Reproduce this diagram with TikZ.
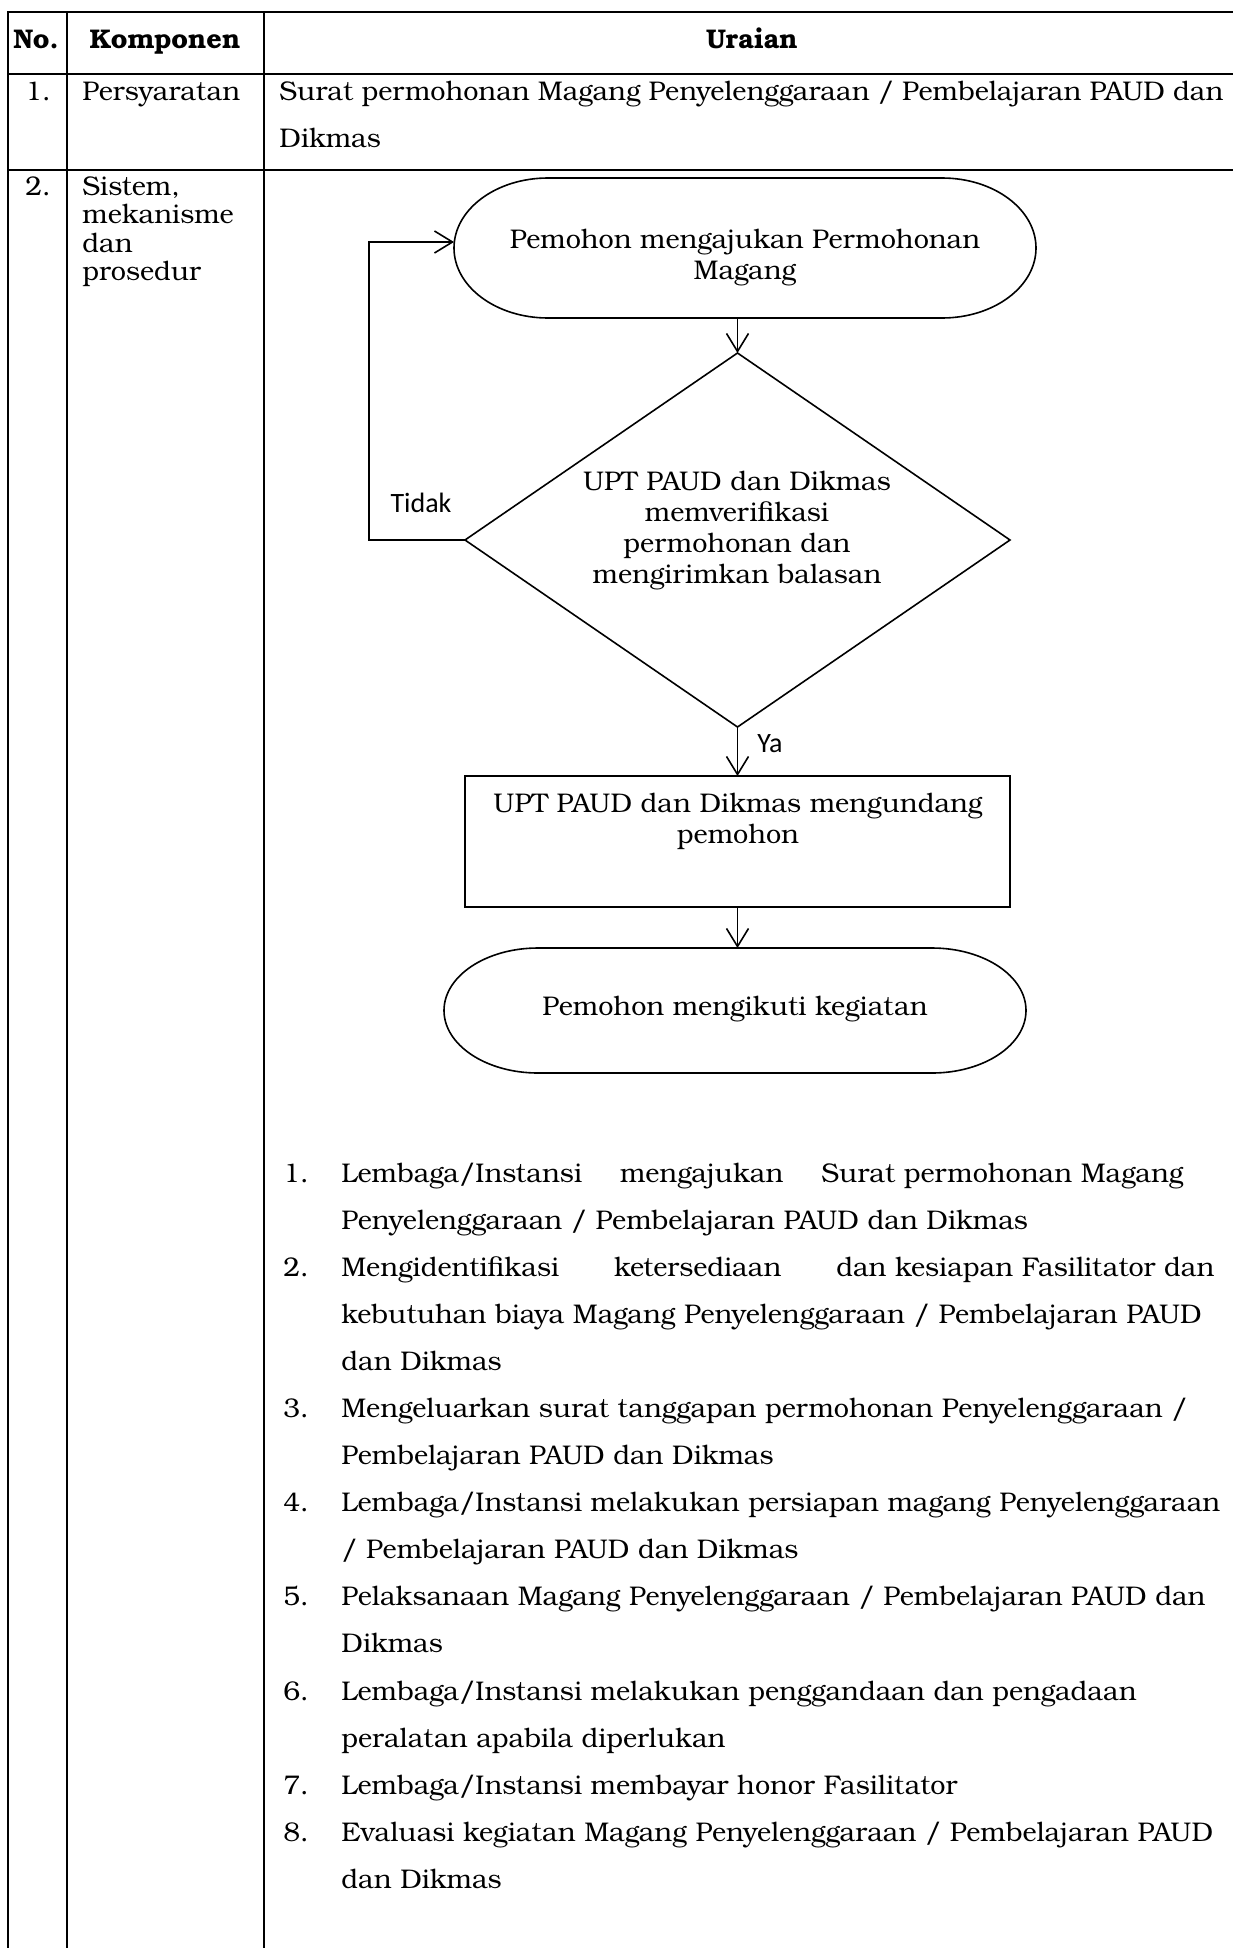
\documentclass[tikz,border=0pt]{standalone}
\usepackage{fontspec}
\setmainfont{texgyrebonum}[Extension=.otf, UprightFont=*-regular, BoldFont=*-bold, ItalicFont=*-italic, BoldItalicFont=*-bolditalic]
\newfontfamily\yesnofont{Carlito}
\usetikzlibrary{arrows.meta, shapes.geometric, calc}

% outline of a flowchart terminator around an (invisible) node:
% #1 node name, #2 horizontal cap radius, #3 vertical cap radius
\newcommand\termoutline[3]{%
  \draw[flow] ($(#1.north west)+(#2,0)$) -- ($(#1.north east)-(#2,0)$)
    arc[start angle=90, end angle=-90, x radius=#2, y radius=#3]
    -- ($(#1.south west)+(#2,0)$)
    arc[start angle=270, end angle=90, x radius=#2, y radius=#3] -- cycle;}

\begin{document}
\begin{tikzpicture}[x=0.5pt, y=-0.5pt,
  grid/.style={line width=1.1pt, line cap=rect},
  flow/.style={line width=0.8pt},
  link/.style={flow, -{Straight Barb[length=9pt, width=11pt, line width=0.8pt]}},
  cell/.style={font=\fontsize{13.5pt}{16pt}\selectfont, inner sep=0pt, anchor=base west},
  hdr/.style={font=\fontsize{13.5pt}{16pt}\selectfont\bfseries, inner sep=0pt, anchor=base},
  ftext/.style={font=\fontsize{13.5pt}{15.5pt}\selectfont, align=center, inner sep=0pt},
  frame/.style={inner sep=0pt, outer sep=0pt},
  yn/.style={font=\yesnofont\fontsize{14pt}{16pt}\selectfont, inner sep=0pt}
]
\useasboundingbox (0,0) rectangle (1232,1948);

% ---- table rules (open on the right and at the bottom)
\draw[grid] (8,12) -- (1232,12);
\draw[grid] (8,74) -- (1232,74);
\draw[grid] (8,170) -- (1232,170);
\draw[grid] (8,12) -- (8,1948);
\draw[grid] (67,12) -- (67,1948);
\draw[grid] (264,12) -- (264,1948);

% ---- header
\node[hdr] (hno) at (36,49) {No.};
\node[hdr] (hkomp) at (165,49) {Komponen};
\node[hdr] (hurai) at (752,49) {Uraian};

% ---- row 1
\node[cell] (n1) at (25,101) {1.};
\node[cell] (k1) at (82,101) {Persyaratan};
\node[cell] (u1a) at (279,101) {\makebox[472pt][s]{Surat permohonan Magang Penyelenggaraan / Pembelajaran PAUD dan}};
\node[cell] (u1b) at (279,148) {Dikmas};

% ---- row 2
\node[cell] (n2) at (25,195) {2.};
\node[cell] (k2a) at (82,195) {Sistem,};
\node[cell] (k2b) at (82,223.5) {mekanisme};
\node[cell] (k2c) at (82,252) {dan};
\node[cell] (k2d) at (82,280.5) {prosedur};

% ---- flowchart
\node[frame, minimum width=291pt, minimum height=70pt] (s1) at (745,248) {};
\termoutline{s1}{47pt}{35pt}
\node[ftext] (s1t) at (745,258) {Pemohon mengajukan Permohonan\\Magang};

\node[draw, flow, diamond, frame, minimum width=272.5pt, minimum height=187pt] (d) at (737.5,540) {};
\node[ftext] (dt) at (737,531)
  {UPT PAUD dan Dikmas\\memverifikasi\\permohonan dan\\mengirimkan balasan};

\node[draw, flow, frame, minimum width=272.5pt, minimum height=65.5pt] (r) at (737.5,841.5) {};
\node[ftext] (rt) at (738,821) {UPT PAUD dan Dikmas mengundang\\pemohon};

\node[frame, minimum width=291pt, minimum height=62.5pt] (s2) at (735,1010.5) {};
\termoutline{s2}{47pt}{31.25pt}
\node[ftext] (s2t) at (735,1009) {Pemohon mengikuti kegiatan};

\draw[link] (d.north |- s1.south) -- (d.north);
\draw[link] (d.west) -- ++(-96,0) |- ([yshift=3pt]s1.west);
\draw[link] (d.south) -- (r.north);
\draw[link] (r.south) -- (r.south |- s2.north);

\node[yn] (tidak) at (421,503) {Tidak};
\node[yn] (ya) at (770,744) {Ya};

% ---- numbered steps
\node[cell] (l1n) at (283,1182) {1.};
\node[cell] (l1a) at (341,1182) {\makebox[421pt][s]{Lembaga/Instansi\hfill mengajukan\hfill Surat permohonan Magang}};
\node[cell] (l1b) at (341,1229) {Penyelenggaraan / Pembelajaran PAUD dan Dikmas};
\node[cell] (l2n) at (283,1276) {2.};
\node[cell] (l2a) at (341,1276) {\makebox[436.5pt][s]{Mengidentifikasi\hfill ketersediaan\hfill dan kesiapan Fasilitator dan}};
\node[cell] (l2b) at (341,1323) {kebutuhan biaya Magang Penyelenggaraan / Pembelajaran PAUD};
\node[cell] (l2c) at (341,1370) {dan Dikmas};
\node[cell] (l3n) at (283,1417) {3.};
\node[cell] (l3a) at (341,1417) {Mengeluarkan surat tanggapan permohonan Penyelenggaraan /};
\node[cell] (l3b) at (341,1464) {Pembelajaran PAUD dan Dikmas};
\node[cell] (l4n) at (283,1511) {4.};
\node[cell] (l4a) at (341,1511) {Lembaga/Instansi melakukan persiapan magang Penyelenggaraan};
\node[cell] (l4b) at (341,1558) {/ Pembelajaran PAUD dan Dikmas};
\node[cell] (l5n) at (283,1605) {5.};
\node[cell] (l5a) at (341,1605) {Pelaksanaan Magang Penyelenggaraan / Pembelajaran PAUD dan};
\node[cell] (l5b) at (341,1652.5) {Dikmas};
\node[cell] (l6n) at (283,1700) {6.};
\node[cell] (l6a) at (341,1700) {Lembaga/Instansi melakukan penggandaan dan pengadaan};
\node[cell] (l6b) at (341,1747) {peralatan apabila diperlukan};
\node[cell] (l7n) at (283,1794) {7.};
\node[cell] (l7a) at (341,1794) {Lembaga/Instansi membayar honor Fasilitator};
\node[cell] (l8n) at (283,1841) {8.};
\node[cell] (l8a) at (341,1841) {Evaluasi kegiatan Magang Penyelenggaraan / Pembelajaran PAUD};
\node[cell] (l8b) at (341,1888) {dan Dikmas};
\end{tikzpicture}
\end{document}
